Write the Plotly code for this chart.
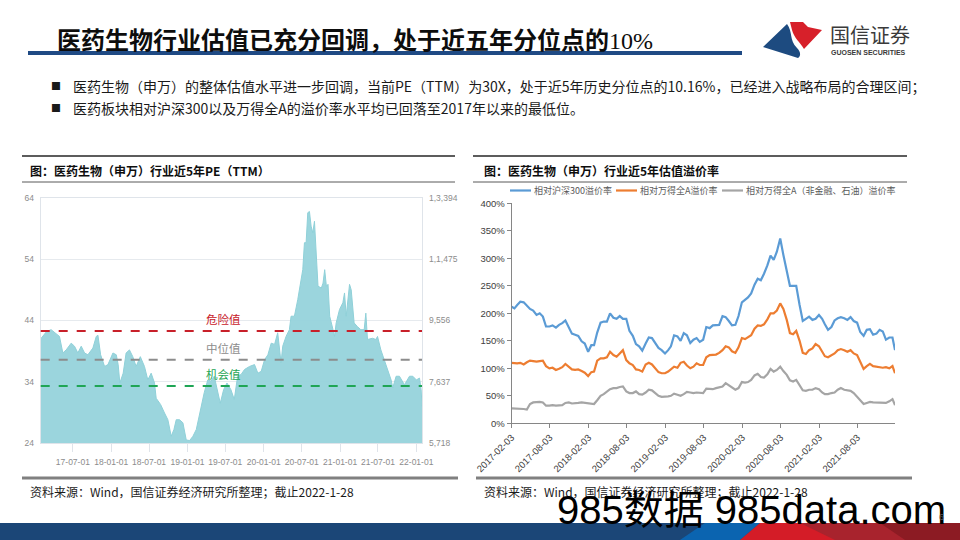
import plotly.graph_objects as go

# ---------------- data: left chart (PE TTM) ----------------
pe_dates = [
    "2017-01-28","2017-02-25","2017-03-19","2017-04-04","2017-04-28","2017-05-14","2017-05-30","2017-06-23","2017-07-09","2017-07-25",
    "2017-08-10","2017-08-26","2017-09-11","2017-10-05","2017-10-21","2017-10-29","2017-11-11","2017-11-30","2017-12-16","2018-01-09",
    "2018-01-25","2018-02-03","2018-02-11","2018-02-27","2018-03-13","2018-03-29","2018-04-14","2018-04-30","2018-05-20","2018-06-09",
    "2018-06-25","2018-07-11","2018-07-27","2018-08-04","2018-08-25","2018-09-13","2018-09-29","2018-10-15","2018-10-28","2018-11-08",
    "2018-11-24","2018-12-10","2018-12-26","2019-01-11","2019-01-27","2019-02-12","2019-03-03","2019-03-22","2019-04-08","2019-04-24",
    "2019-05-09","2019-05-25","2019-06-07","2019-06-23","2019-07-09","2019-07-28","2019-08-13","2019-08-29","2019-09-15","2019-10-01",
    "2019-10-25","2019-11-18","2019-12-04","2019-12-20","2020-01-05","2020-01-21","2020-02-06","2020-02-22","2020-03-08","2020-03-24",
    "2020-04-01","2020-04-17","2020-05-03","2020-05-11","2020-05-27","2020-06-12","2020-06-28","2020-07-06","2020-07-14","2020-07-22",
    "2020-07-30","2020-08-07","2020-08-15","2020-08-23","2020-08-31","2020-09-09","2020-09-17","2020-10-03","2020-10-11","2020-10-19",
    "2020-10-27","2020-11-04","2020-11-12","2020-11-28","2020-12-05","2020-12-13","2020-12-29","2021-01-14","2021-01-22","2021-01-30",
    "2021-02-15","2021-02-23","2021-03-09","2021-03-25","2021-04-10","2021-04-26","2021-05-04","2021-05-12","2021-06-05","2021-06-21",
    "2021-06-29","2021-07-15","2021-08-01","2021-08-17","2021-09-02","2021-09-10","2021-09-26","2021-10-12","2021-11-05","2021-11-29",
    "2021-12-15","2022-01-01","2022-01-16","2022-01-24","2022-01-28",
]
pe_values = [
    41.0, 42.2, 42.5, 42.0, 41.4, 38.7, 39.2, 40.3, 39.8, 38.7,
    39.8, 38.7, 38.4, 39.5, 41.4, 41.6, 38.4, 36.5, 36.8, 38.7,
    38.4, 36.8, 33.8, 35.4, 38.7, 39.2, 38.1, 36.5, 38.1, 36.5,
    34.3, 35.4, 33.8, 31.3, 30.3, 28.9, 27.8, 25.1, 26.2, 27.8,
    27.8, 27.3, 24.5, 24.4, 25.1, 26.2, 29.4, 32.2, 34.3, 34.1,
    34.9, 32.7, 30.5, 32.7, 33.8, 32.7, 31.1, 34.9, 35.2, 36.0,
    36.5, 36.8, 35.4, 35.7, 37.6, 38.4, 40.3, 40.1, 42.0, 37.1,
    39.8, 41.4, 42.5, 44.7, 44.7, 47.4, 50.7, 52.3, 56.7, 56.7,
    61.6, 61.8, 59.4, 58.3, 60.2, 54.5, 49.6, 49.3, 50.1, 52.3,
    49.6, 49.9, 44.7, 42.5, 41.4, 43.6, 45.8, 46.9, 48.5, 44.7,
    49.9, 49.0, 43.6, 43.0, 42.5, 42.5, 45.2, 40.9, 41.1, 40.9,
    41.4, 39.2, 37.6, 36.0, 34.3, 33.0, 34.9, 34.9, 33.5, 34.9,
    34.9, 34.3, 34.6, 32.7, 30.0,
]
ref_names = ["危险值", "中位值", "机会值"]
ref_levels = [42.3, 37.6, 33.3]
ref_colors = ["#c8202a", "#8c8c8c", "#1fa555"]

left_tick_dates = ["2017-07-01","2018-01-01","2018-07-01","2019-01-01","2019-07-01",
                   "2020-01-01","2020-07-01","2021-01-01","2021-07-01","2022-01-01"]
left_tick_text = ["17-07-01","18-01-01","18-07-01","19-01-01","19-07-01",
                  "20-01-01","20-07-01","21-01-01","21-07-01","22-01-01"]
left_y_ticks = [24, 34, 44, 54, 64]
right_idx_ticks = [5718, 7637, 9556, 11475, 13394]
right_idx_text = ["5,718", "7,637", "9,556", "1,1,475", "1,3,394"]

# ---------------- data: right chart (premium %) ----------------
prem_dates = (["2017-02-03", "2017-02-16"]
              + [f"{y}-{m:02d}-{d:02d}" for y in range(2017, 2023) for m in range(1, 13) for d in (1, 16)
                 if "2017-03-01" <= f"{y}-{m:02d}-{d:02d}" <= "2022-01-16"]
              + ["2022-01-28"])
prem_hs300 = [
    212,209,215,221,220,213,208,205,197,200,
    194,176,176,178,174,179,182,187,173,163,
    161,159,149,145,130,142,142,165,183,185,
    185,200,192,190,195,190,190,168,159,144,
    140,132,145,156,155,147,137,133,127,133,
    140,160,158,150,164,160,146,152,155,148,
    152,175,173,178,179,179,195,193,186,178,
    179,195,220,224,229,236,252,263,260,272,
    287,305,297,312,336,306,276,250,250,250,
    215,186,190,194,188,190,197,190,180,170,
    175,187,191,193,191,188,193,186,183,166,
    159,170,171,161,163,170,167,152,156,156,
    133,
]
prem_wind_a = [
    110,109,109,110,107,111,114,113,112,113,
    114,104,100,101,97,99,102,108,102,98,
    97,98,95,92,86,93,94,114,118,118,
    120,130,124,121,127,133,115,109,106,98,
    97,94,107,110,107,100,93,91,91,94,
    98,103,101,110,112,105,100,103,109,106,
    106,120,124,124,125,128,133,140,138,131,
    128,138,155,153,157,160,172,178,177,180,
    189,200,200,205,218,208,188,164,162,168,
    150,128,126,133,136,144,140,130,122,120,
    124,127,133,135,133,130,133,127,124,111,
    99,104,108,104,103,101,101,102,100,104,
    91,
]
prem_wind_a_ex = [
    27,27,27,27,26,25,35,38,39,39,
    38,32,32,33,32,32,33,37,38,36,
    36,37,38,37,36,35,35,42,50,53,
    57,62,64,64,66,67,58,55,55,58,
    53,52,56,61,60,55,50,48,48,49,
    50,54,52,50,53,57,56,55,56,55,
    55,63,62,62,64,65,67,73,69,64,
    61,64,75,74,75,79,87,90,84,83,
    89,99,94,97,103,95,88,78,76,79,
    70,60,59,61,61,64,62,56,53,53,
    55,56,61,64,61,60,59,55,48,43,
    35,37,39,38,38,38,37,37,40,44,
    33,
]
prem_names = ["相对沪深300溢价率", "相对万得全A溢价率", "相对万得全A（非金融、石油）溢价率"]
prem_colors = ["#5b9bd5", "#ed7d31", "#a5a5a5"]
right_tick_dates = ["2017-02-03","2017-08-03","2018-02-03","2018-08-03","2019-02-03",
                    "2019-08-03","2020-02-03","2020-08-03","2021-02-03","2021-08-03"]

CJK = "Noto Sans CJK SC"
SANS = "Liberation Sans, Arial, sans-serif"
W, H = 960, 540


def px(x):
    return x / W


def py(y):
    return 1 - y / H


fig = go.Figure()

# left: PE area
fig.add_trace(go.Scatter(
    x=pe_dates, y=pe_values, mode="lines", fill="tozeroy",
    line=dict(color="#8fd0d8", width=1), fillcolor="rgba(150,211,219,0.95)",
    xaxis="x", yaxis="y", hoverinfo="skip", showlegend=False))

# invisible companion trace so that the right-hand index axis of the left chart is drawn
fig.add_trace(go.Scatter(
    x=[pe_dates[0], pe_dates[-1]], y=[right_idx_ticks[0], right_idx_ticks[-1]], mode="lines",
    line=dict(width=0), opacity=0, xaxis="x", yaxis="y3", hoverinfo="skip", showlegend=False))

# right: premium lines
for name, vals, col in zip(prem_names, [prem_hs300, prem_wind_a, prem_wind_a_ex], prem_colors):
    fig.add_trace(go.Scatter(
        x=prem_dates, y=vals, mode="lines", name=name,
        line=dict(color=col, width=2.2), xaxis="x2", yaxis="y2",
        hoverinfo="skip", showlegend=False))

shapes = []
annotations = []

# reference lines on left chart
for name, lvl, col in zip(ref_names, ref_levels, ref_colors):
    shapes.append(dict(type="line", xref="x domain", yref="y", x0=0, x1=1, y0=lvl, y1=lvl,
                       line=dict(color=col, width=2, dash="dash"), layer="above"))
    annotations.append(dict(xref="x domain", yref="y", x=0.48, y=lvl, yanchor="bottom", yshift=2,
                            text=name, showarrow=False,
                            font=dict(family=CJK, size=11.5, color=col)))

# ---- page title ----
annotations.append(dict(xref="paper", yref="paper", x=px(55), y=py(38), xanchor="left", yanchor="middle",
                        text="<b>医药生物行业估值已充分回调，处于近五年分位点的</b>"
                             "<span style='font-family:Liberation Serif'>10%</span>",
                        showarrow=False, font=dict(family=CJK, size=24, color="#0d0d0d")))
shapes.append(dict(type="rect", xref="paper", yref="paper", x0=px(28), x1=px(742), y0=py(55), y1=py(51),
                   fillcolor="#1f4a84", line=dict(width=0)))

# ---- logo ----
shapes.append(dict(type="path", xref="paper", yref="paper",
                   path=f"M {px(763)},{py(47)} L {px(787)},{py(24)} C {px(793)},{py(32)} {px(789)},{py(40)} {px(797)},{py(48)} "
                        f"C {px(801)},{py(52)} {px(801)},{py(56)} {px(798)},{py(58)} Z",
                   fillcolor="#1d4b80", line=dict(width=0)))
shapes.append(dict(type="path", xref="paper", yref="paper",
                   path=f"M {px(790)},{py(22)} L {px(803)},{py(22)} L {px(808)},{py(27)} L {px(822)},{py(30)} "
                        f"L {px(804)},{py(49)} C {px(800)},{py(42)} {px(794)},{py(38)} {px(792)},{py(30)} Z",
                   fillcolor="#d7202a", line=dict(width=0)))
annotations.append(dict(xref="paper", yref="paper", x=px(828), y=py(34), xanchor="left", yanchor="middle",
                        text="国信证券", showarrow=False, font=dict(family=CJK, size=20, color="#3a3a3a")))
annotations.append(dict(xref="paper", yref="paper", x=px(829), y=py(52), xanchor="left", yanchor="middle",
                        text="<b>GUOSEN SECURITIES</b>", showarrow=False,
                        font=dict(family=SANS, size=7, color="#3a3a3a")))

# ---- bullets ----
bullets = ["医药生物（申万）的整体估值水平进一步回调，当前PE（TTM）为30X，处于近5年历史分位点的10.16%，已经进入战略布局的合理区间；",
           "医药板块相对沪深300以及万得全A的溢价率水平均已回落至2017年以来的最低位。"]
for i, t in enumerate(bullets):
    yy = 86 + i * 22
    annotations.append(dict(xref="paper", yref="paper", x=px(49), y=py(yy), xanchor="left", yanchor="middle",
                            text="■", showarrow=False, font=dict(family=CJK, size=10, color="#1a1a1a")))
    annotations.append(dict(xref="paper", yref="paper", x=px(71), y=py(yy), xanchor="left", yanchor="middle",
                            text=t, showarrow=False, font=dict(family=CJK, size=14, color="#1a1a1a")))

# ---- panel headers ----
for (x0, x1, tx, title) in [(22, 455, 28, "图：医药生物（申万）行业近5年PE（TTM）"),
                            (473, 907, 482, "图：医药生物（申万）行业近5年估值溢价率")]:
    shapes.append(dict(type="line", xref="paper", yref="paper", x0=px(x0), x1=px(x1), y0=py(156), y1=py(156),
                       line=dict(color="#262626", width=1.5)))
    shapes.append(dict(type="line", xref="paper", yref="paper", x0=px(x0), x1=px(x1), y0=py(182), y1=py(182),
                       line=dict(color="#595959", width=1)))
    annotations.append(dict(xref="paper", yref="paper", x=px(tx), y=py(170), xanchor="left", yanchor="middle",
                            text=f"<b>{title}</b>", showarrow=False, font=dict(family=CJK, size=12, color="#0d0d0d")))

# ---- right legend ----
leg_x = [510, 616, 722]
for lx, name, col in zip(leg_x, prem_names, prem_colors):
    shapes.append(dict(type="line", xref="paper", yref="paper", x0=px(lx), x1=px(lx + 21), y0=py(190.5), y1=py(190.5),
                       line=dict(color=col, width=2.2)))
    annotations.append(dict(xref="paper", yref="paper", x=px(lx + 22), y=py(190.5), xanchor="left", yanchor="middle",
                            text=name, showarrow=False, font=dict(family=CJK, size=9, color="#595959")))

# ---- footers ----
for (x0, x1, tx) in [(22, 458, 28), (476, 912, 482)]:
    shapes.append(dict(type="line", xref="paper", yref="paper", x0=px(x0), x1=px(x1), y0=py(478), y1=py(478),
                       line=dict(color="#808080", width=3)))
    annotations.append(dict(xref="paper", yref="paper", x=px(tx), y=py(491), xanchor="left", yanchor="middle",
                            text="资料来源：Wind，国信证券经济研究所整理；截止2022-1-28", showarrow=False,
                            font=dict(family=CJK, size=12, color="#1a1a1a")))

# ---- bottom band ----
shapes.append(dict(type="rect", xref="paper", yref="paper", x0=0, x1=1, y0=0, y1=py(523),
                   fillcolor="#1b4677", line=dict(width=0)))
shapes.append(dict(type="path", xref="paper", yref="paper",
                   path=f"M {px(680)},{py(540)} L {px(705)},{py(523)} L {px(760)},{py(523)} L {px(740)},{py(540)} Z",
                   fillcolor="#0b64b0", line=dict(width=0)))
shapes.append(dict(type="path", xref="paper", yref="paper",
                   path=f"M {px(740)},{py(540)} L {px(760)},{py(523)} L {px(960)},{py(523)} L {px(960)},{py(540)} Z",
                   fillcolor="#d41c27", line=dict(width=0)))
shapes.append(dict(type="path", xref="paper", yref="paper",
                   path=f"M {px(800)},{py(523)} L {px(960)},{py(523)} L {px(960)},{py(540)} L {px(835)},{py(540)} Z",
                   fillcolor="#a8232d", line=dict(width=0)))
shapes.append(dict(type="path", xref="paper", yref="paper",
                   path=f"M {px(880)},{py(523)} L {px(960)},{py(523)} L {px(960)},{py(540)} L {px(905)},{py(540)} Z",
                   fillcolor="#8c1b23", line=dict(width=0)))

# ---- watermark and page number ----
annotations.append(dict(xref="paper", yref="paper", x=px(555), y=py(510), xanchor="left", yanchor="middle",
                        text="985数据 985data.com", showarrow=False,
                        font=dict(family=SANS + ", " + CJK, size=40, color="#000000")))
annotations.append(dict(xref="paper", yref="paper", x=px(941), y=py(517), xanchor="center", yanchor="middle",
                        text="6", showarrow=False, font=dict(family=SANS, size=9, color="#595959")))

tick_font_left = dict(family=SANS, size=8.5, color="#8c8c8c")
tick_font_right = dict(family=SANS, size=9.5, color="#404040")

fig.update_layout(
    width=W, height=H, margin=dict(l=0, r=0, t=0, b=0, autoexpand=False),
    paper_bgcolor="white", plot_bgcolor="white", showlegend=False,
    shapes=shapes, annotations=annotations,
    xaxis=dict(domain=[px(40.7), px(422)], anchor="y", type="date", automargin=False,
               range=[pe_dates[0], pe_dates[-1]], tickvals=left_tick_dates, ticktext=left_tick_text,
               tickangle=0, ticks="outside", ticklen=8, tickcolor="#dfe4ea", showline=True, linecolor="#dfe4ea",
               mirror=True, showgrid=False, zeroline=False, tickfont=tick_font_left, ticklabelstandoff=3),
    yaxis=dict(domain=[py(443), py(198)], anchor="x", range=[24, 64], tickvals=left_y_ticks, automargin=False,
               showgrid=True, gridcolor="#e6eaee", showline=True, linecolor="#dfe4ea", mirror=True,
               zeroline=False, ticks="", tickfont=tick_font_left, ticklabelstandoff=4),
    yaxis3=dict(overlaying="y", side="right", anchor="x", range=[right_idx_ticks[0], right_idx_ticks[-1]],
                tickvals=right_idx_ticks, ticktext=right_idx_text, showgrid=False, zeroline=False,
                automargin=False, showline=False, ticks="", tickfont=tick_font_left, ticklabelstandoff=6),
    xaxis2=dict(domain=[px(511.7), px(895)], anchor="y2", type="date", automargin=False,
                range=[prem_dates[0], prem_dates[-1]], tickvals=right_tick_dates, tickformat="%Y-%m-%d",
                tickangle=-45, ticks="outside", ticklen=4, tickcolor="#868686", showline=True,
                linecolor="#868686", showgrid=False, zeroline=False, tickfont=tick_font_right),
    yaxis2=dict(domain=[py(423.3), py(203.3)], anchor="x2", range=[0, 400], dtick=50, ticksuffix="%",
                automargin=False, ticks="outside", ticklen=4, tickcolor="#868686", showline=True,
                linecolor="#868686", showgrid=False, zeroline=False, tickfont=tick_font_right),
)

fig.write_html("out.html", config={"displayModeBar": False},
               post_script="document.body.style.margin='0';")
